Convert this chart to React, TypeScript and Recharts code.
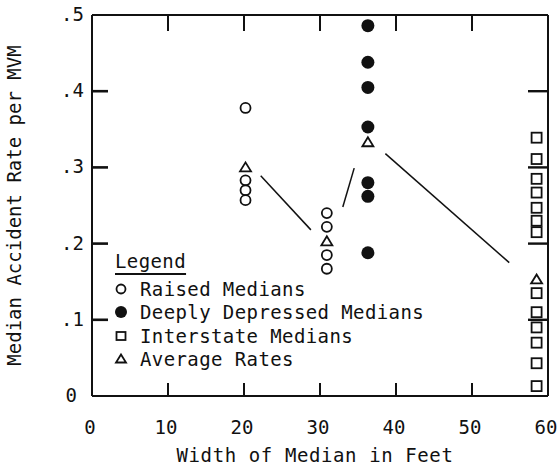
import { Legend, ReferenceLine, Scatter, ScatterChart, XAxis, YAxis } from 'recharts';

const INK = '#111';
const FONT = '"DejaVu Sans Mono", "Liberation Mono", monospace';

const xTicks = [0, 10, 20, 30, 40, 50, 60];
const yTicks = [0, 0.1, 0.2, 0.3, 0.4, 0.5];
const yTickLabels = ['0', '.1', '.2', '.3', '.4', '.5'];
const innerXTicks = [10, 20, 30, 40, 50];
const innerYTicks = [0.1, 0.2, 0.3, 0.4];
const legendOrder = ['Raised Medians', 'Deeply Depressed Medians', 'Interstate Medians', 'Average Rates'];

const raisedMedians = [
  { x: 20.2, y: 0.378 },
  { x: 20.2, y: 0.283 },
  { x: 20.2, y: 0.27 },
  { x: 20.2, y: 0.257 },
  { x: 30.9, y: 0.24 },
  { x: 30.9, y: 0.222 },
  { x: 30.9, y: 0.185 },
  { x: 30.9, y: 0.167 },
];

const deeplyDepressed = [
  { x: 36.3, y: 0.486 },
  { x: 36.3, y: 0.438 },
  { x: 36.3, y: 0.405 },
  { x: 36.3, y: 0.353 },
  { x: 36.3, y: 0.28 },
  { x: 36.3, y: 0.262 },
  { x: 36.3, y: 0.188 },
];

const interstate = [
  { x: 58.5, y: 0.339 },
  { x: 58.5, y: 0.311 },
  { x: 58.5, y: 0.285 },
  { x: 58.5, y: 0.267 },
  { x: 58.5, y: 0.247 },
  { x: 58.5, y: 0.23 },
  { x: 58.5, y: 0.215 },
  { x: 58.5, y: 0.135 },
  { x: 58.5, y: 0.11 },
  { x: 58.5, y: 0.09 },
  { x: 58.5, y: 0.07 },
  { x: 58.5, y: 0.043 },
  { x: 58.5, y: 0.013 },
];

const averageRates = [
  { x: 20.2, y: 0.3 },
  { x: 30.9, y: 0.203 },
  { x: 36.3, y: 0.333 },
  { x: 58.5, y: 0.153 },
];

// hand drawn links between the averages (they stop short of the marks)
const averageLinks = [
  [{ x: 22.2, y: 0.289 }, { x: 28.8, y: 0.218 }],
  [{ x: 33.0, y: 0.248 }, { x: 34.5, y: 0.299 }],
  [{ x: 38.6, y: 0.318 }, { x: 54.9, y: 0.175 }],
];

// tick positions on the frame, drawn as tiny scatter marks so the axes' scales place them
const bottomTickMarks = innerXTicks.map((t) => ({ x: t, y: 0 }));
const topTickMarks = innerXTicks.map((t) => ({ x: t, y: 0.5 }));
const leftTickMarks = innerYTicks.map((t) => ({ x: 0, y: t }));
const rightTickMarks = innerYTicks.map((t) => ({ x: 60, y: t }));

const textStyle = { fontFamily: FONT, fontSize: 19, fill: INK };

const openCircle = (p: any) => (
  <circle cx={p.cx} cy={p.cy} r={5} fill="#fff" stroke={INK} strokeWidth={1.8} />
);
const dot = (p: any) => <circle cx={p.cx} cy={p.cy} r={6.5} fill={INK} />;
const square = (p: any) => (
  <rect x={p.cx - 5} y={p.cy - 5} width={10} height={10} fill="none" stroke={INK} strokeWidth={1.8} />
);
const triangle = (p: any) => (
  <path
    d={`M${p.cx} ${p.cy - 5}L${p.cx + 5.5} ${p.cy + 4}L${p.cx - 5.5} ${p.cy + 4}Z`}
    fill="#fff"
    stroke={INK}
    strokeWidth={1.8}
  />
);
// inward tick: dx/dy is the direction and length in px, w the thickness
const tickMark = (dx: number, dy: number, w: number) => (p: any) => (
  <rect
    x={Math.min(p.cx, p.cx + dx) - (dx === 0 ? w / 2 : 0)}
    y={Math.min(p.cy, p.cy + dy) - (dy === 0 ? w / 2 : 0)}
    width={dx === 0 ? w : Math.abs(dx)}
    height={dy === 0 ? w : Math.abs(dy)}
    fill={INK}
  />
);

const BottomTick = ({ x, y, payload }: any) => (
  <text x={x - 2} y={y + 38} textAnchor="middle" style={textStyle}>
    {payload.value}
  </text>
);

const LeftTick = ({ x, y, index }: any) => (
  <text x={index === 0 ? x - 15 : x - 8} y={y + 6} textAnchor="end" style={textStyle}>
    {yTickLabels[index]}
  </text>
);

const yLabel = (props: any) => {
  const vb = props.viewBox;
  const cx = vb.x + 21;
  const cy = vb.y + vb.height / 2;
  return (
    <text x={cx} y={cy} transform={`rotate(-90 ${cx} ${cy})`} textAnchor="middle" style={textStyle}>
      Median Accident Rate per MVM
    </text>
  );
};

const xLabel = (props: any) => {
  const vb = props.viewBox;
  return (
    <text
      x={vb.x + vb.width / 2 - 5}
      y={vb.y + 66}
      textAnchor="middle"
      style={{ ...textStyle, letterSpacing: 0.6 }}
    >
      Width of Median in Feet
    </text>
  );
};

const legendSymbols: Record<string, JSX.Element> = {
  'Raised Medians': <circle cx={9} cy={10} r={4.5} fill="#fff" stroke={INK} strokeWidth={1.8} />,
  'Deeply Depressed Medians': <circle cx={9} cy={10} r={6} fill={INK} />,
  'Interstate Medians': <rect x={4.5} y={6} width={9} height={8} fill="none" stroke={INK} strokeWidth={1.8} />,
  'Average Rates': <path d="M9 5.5L14 13.5L4 13.5Z" fill="#fff" stroke={INK} strokeWidth={1.8} />,
};

const renderLegend = () => (
  <div style={{ fontFamily: FONT, fontSize: 19, color: INK, letterSpacing: 0.4, textAlign: 'left' }}>
    <div style={{ lineHeight: '24px', marginLeft: 3, marginBottom: 4 }}>
      <span style={{ textDecoration: 'underline', textUnderlineOffset: 5, textDecorationThickness: 1.5 }}>
        Legend
      </span>
    </div>
    {legendOrder.map((name) => (
      <div key={name} style={{ display: 'flex', alignItems: 'center', height: 23.5 }}>
        <svg width={20} height={20} style={{ marginRight: 8 }}>
          {legendSymbols[name]}
        </svg>
        <span>{name}</span>
      </div>
    ))}
  </div>
);

export default function App() {
  return (
    <div style={{ position: 'absolute', left: 0, top: 0, background: '#fff' }}>
      <ScatterChart width={560} height={472} margin={{ top: 15, right: 12, bottom: 0, left: 0 }}>
        <XAxis
          dataKey="x"
          type="number"
          domain={[0, 60]}
          ticks={xTicks}
          tickSize={0}
          tickMargin={0}
          tickLine={false}
          tick={BottomTick}
          height={76}
          axisLine={false}
          label={xLabel}
          interval={0}
        />
        <YAxis
          dataKey="y"
          type="number"
          domain={[0, 0.5]}
          ticks={yTicks}
          tickSize={0}
          tickMargin={0}
          tickLine={false}
          tick={LeftTick}
          width={92}
          axisLine={false}
          label={yLabel}
          interval={0}
        />

        {/* frame */}
        <ReferenceLine x={0} stroke={INK} strokeWidth={2} ifOverflow="visible" />
        <ReferenceLine x={60} stroke={INK} strokeWidth={2} ifOverflow="visible" />
        <ReferenceLine y={0} stroke={INK} strokeWidth={2} ifOverflow="visible" />
        <ReferenceLine y={0.5} stroke={INK} strokeWidth={2} ifOverflow="visible" />

        {averageLinks.map((seg, i) => (
          <ReferenceLine key={`link-${i}`} segment={seg} stroke={INK} strokeWidth={1.5} />
        ))}

        <Scatter data={bottomTickMarks} shape={tickMark(0, -13, 2)} legendType="none" isAnimationActive={false} />
        <Scatter data={topTickMarks} shape={tickMark(0, 16, 2)} legendType="none" isAnimationActive={false} />
        <Scatter data={leftTickMarks} shape={tickMark(16, 0, 2.6)} legendType="none" isAnimationActive={false} />
        <Scatter data={rightTickMarks} shape={tickMark(-20, 0, 2.4)} legendType="none" isAnimationActive={false} />

        <Scatter name="Raised Medians" data={raisedMedians} shape={openCircle} isAnimationActive={false} />
        <Scatter name="Deeply Depressed Medians" data={deeplyDepressed} shape={dot} isAnimationActive={false} />
        <Scatter name="Interstate Medians" data={interstate} shape={square} isAnimationActive={false} />
        <Scatter name="Average Rates" data={averageRates} shape={triangle} isAnimationActive={false} />
        <Legend
          layout="vertical"
          align="center"
          verticalAlign="middle"
          content={renderLegend}
          wrapperStyle={{ left: 112, top: 249, width: 360 }}
        />
      </ScatterChart>
    </div>
  );
}
